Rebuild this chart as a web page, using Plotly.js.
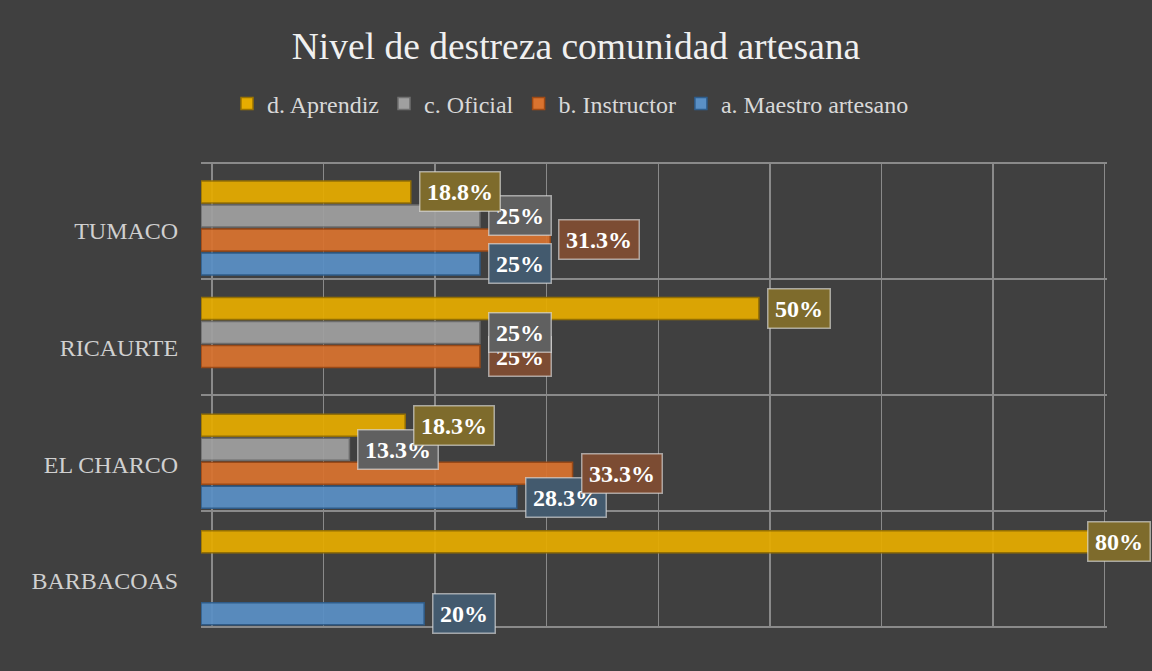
<!DOCTYPE html>
<html>
<head>
<meta charset="utf-8">
<script src="https://cdn.plot.ly/plotly-3.0.1.min.js"></script>
<style>html,body{margin:0;padding:0;background:#404040;}#chart{width:1152px;height:671px;}</style>
</head>
<body>
<div id="chart"></div>
<script>
// ---- data ----
const categories = ['BARBACOAS', 'EL CHARCO', 'RICAURTE', 'TUMACO'];
const seriesNames = ['a. Maestro artesano', 'b. Instructor', 'c. Oficial', 'd. Aprendiz'];
const maestro    = [20, 28.3, null, 25];
const instructor = [null, 33.3, 25, 31.3];
const oficial    = [null, 13.3, 25, 25];
const aprendiz   = [80, 18.3, 50, 18.8];
const seriesValues = [maestro, instructor, oficial, aprendiz];

// ---- style ----
const barColors  = ['#5A90C6', '#D9732F', '#A0A0A0', '#E6AC00'];
const lineColors = ['#2E5E8E', '#A04A14', '#707070', '#9A7300'];
const labelBg    = ['#435A6E', '#7C4C33', '#606060', '#7E6B2C'];
const FONT = '"Liberation Serif", "Times New Roman", serif';

const W = 1152, H = 671;
const M = {l: 201, r: 45, t: 162, b: 43};
const xRange = [0, 81.2];
const yRange = [-0.43, 3.565];
const bargap = 0.177, bargroupgap = 0.083;
const plotW = W - M.l - M.r;
const pxPerUnit = plotW / (xRange[1] - xRange[0]);
const depthPx = 11; // back-wall offset of the pseudo-3D grid

const traces = seriesNames.map((name, i) => ({
  type: 'bar',
  orientation: 'h',
  name: name,
  y: categories,
  x: seriesValues[i],
  marker: {color: barColors[i], opacity: 0.93, line: {color: lineColors[i], width: 1.5}},
  hoverinfo: 'x+name',
  cliponaxis: false
}));
// empty trace to carry grid axes
traces.push({type: 'scatter', x: [], y: [], xaxis: 'x2', yaxis: 'y2', showlegend: false, hoverinfo: 'skip'});

// labels
function textWidth(s) {
  let w = 0;
  for (const ch of s) {
    if (ch === '%') w += 24; else if (ch === '.') w += 6; else w += 12;
  }
  return w;
}
const slot = (1 - bargap) / seriesNames.length;
const annotations = [];
seriesValues.forEach((vals, i) => {
  const off = -(1 - bargap) / 2 + (i + 0.5) * slot;
  vals.forEach((v, j) => {
    if (!v) return;
    const txt = v + '%';
    const tw = textWidth(txt) + 7;
    const boxW = tw + 6 + 3;
    const endPx = M.l + (v - xRange[0]) * pxPerUnit;
    let shift = 8;
    if (endPx + shift + boxW > W - 1) shift = (W - 1) - boxW - endPx;
    annotations.push({
      x: v, y: j + off, xref: 'x', yref: 'y',
      text: txt, showarrow: false,
      xanchor: 'left', yanchor: 'middle', xshift: shift,
      width: tw, height: 32, borderpad: 3,
      font: {family: FONT, size: 24, color: '#ffffff', weight: 'bold'},
      bgcolor: labelBg[i], bordercolor: 'rgba(230,230,230,0.6)', borderwidth: 1.5
    });
  });
});

const gridColor = '#8a8a8a';
const layout = {
  width: W, height: H,
  margin: M,
  paper_bgcolor: '#404040',
  plot_bgcolor: '#404040',
  font: {family: FONT, color: '#d9d9d9'},
  title: {
    text: 'Nivel de destreza comunidad artesana',
    font: {family: FONT, size: 37.5, color: '#f0f0f0'},
    x: 0.5, xref: 'container', xanchor: 'center',
    y: 1 - 46 / H, yref: 'container', yanchor: 'middle'
  },
  barmode: 'group',
  bargap: bargap,
  bargroupgap: bargroupgap,
  showlegend: true,
  legend: {
    orientation: 'h', traceorder: 'reversed',
    x: (227 - M.l) / plotW, xanchor: 'left',
    y: (H - M.b - 104) / (H - M.t - M.b), yanchor: 'middle',
    font: {family: FONT, size: 24, color: '#d9d9d9'},
    bgcolor: 'rgba(0,0,0,0)', itemwidth: 30
  },
  xaxis: {
    range: xRange, showgrid: false, zeroline: false, showticklabels: false,
    showline: false, fixedrange: true
  },
  xaxis2: {
    overlaying: 'x', anchor: 'y2', side: 'top',
    range: [xRange[0] - depthPx / pxPerUnit, xRange[1] - depthPx / pxPerUnit],
    tick0: 0, dtick: 10, showgrid: true, gridcolor: gridColor, gridwidth: 1.5,
    zeroline: false, showticklabels: false, showline: false, fixedrange: true
  },
  yaxis: {
    type: 'category', categoryorder: 'array', categoryarray: categories,
    range: yRange, showgrid: false, zeroline: false, showline: false,
    ticks: 'outside', ticklen: 17, tickcolor: 'rgba(0,0,0,0)',
    ticklabelshift: 3,
    tickfont: {family: FONT, size: 24, color: '#d0d0d0'}, fixedrange: true
  },
  yaxis2: {
    overlaying: 'y', anchor: 'x2', side: 'right',
    range: yRange, tick0: -0.42, dtick: 0.994,
    showgrid: true, gridcolor: gridColor, gridwidth: 1.5,
    zeroline: false, showticklabels: false, showline: false, fixedrange: true
  },
  annotations: annotations
};

Plotly.newPlot('chart', traces, layout, {displayModeBar: false, staticPlot: true});
</script>
</body>
</html>
